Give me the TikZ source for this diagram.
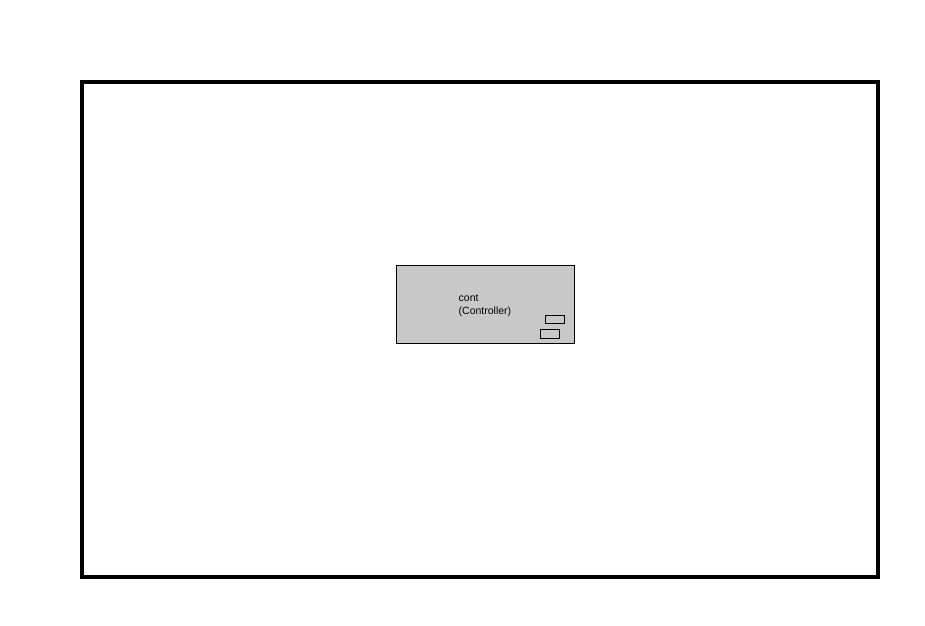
\documentclass[tikz,border=0pt]{standalone}
\usepackage{fontspec}
\setmainfont{Liberation Sans}
\usetikzlibrary{positioning}
\definecolor{blkgray}{RGB}{200,200,200}

\begin{document}
\begin{tikzpicture}[x=1pt,y=-1pt,font=\fontsize{10.5}{13}\selectfont]
    \useasboundingbox (0,0) rectangle (925,625);
    \draw[line width=3.5pt] (82,82) rectangle (878,577);
    \node[draw,fill=blkgray,line width=.5pt,minimum width=178pt,minimum height=78pt,inner sep=0pt] (cont) at (485,304) {};
    \node[anchor=north west,align=left,inner sep=0pt] (lbl) at (458.5,294.5) {cont\\(Controller)};
    \node[draw,line width=.5pt,minimum width=19pt,minimum height=8.5pt,inner sep=0pt] (portout) at (554.5,319) {};
    \node[draw,line width=.5pt,minimum width=19pt,minimum height=8.5pt,inner sep=0pt] (portin) at (549.5,333.5) {};
  \end{tikzpicture}
\end{document}
